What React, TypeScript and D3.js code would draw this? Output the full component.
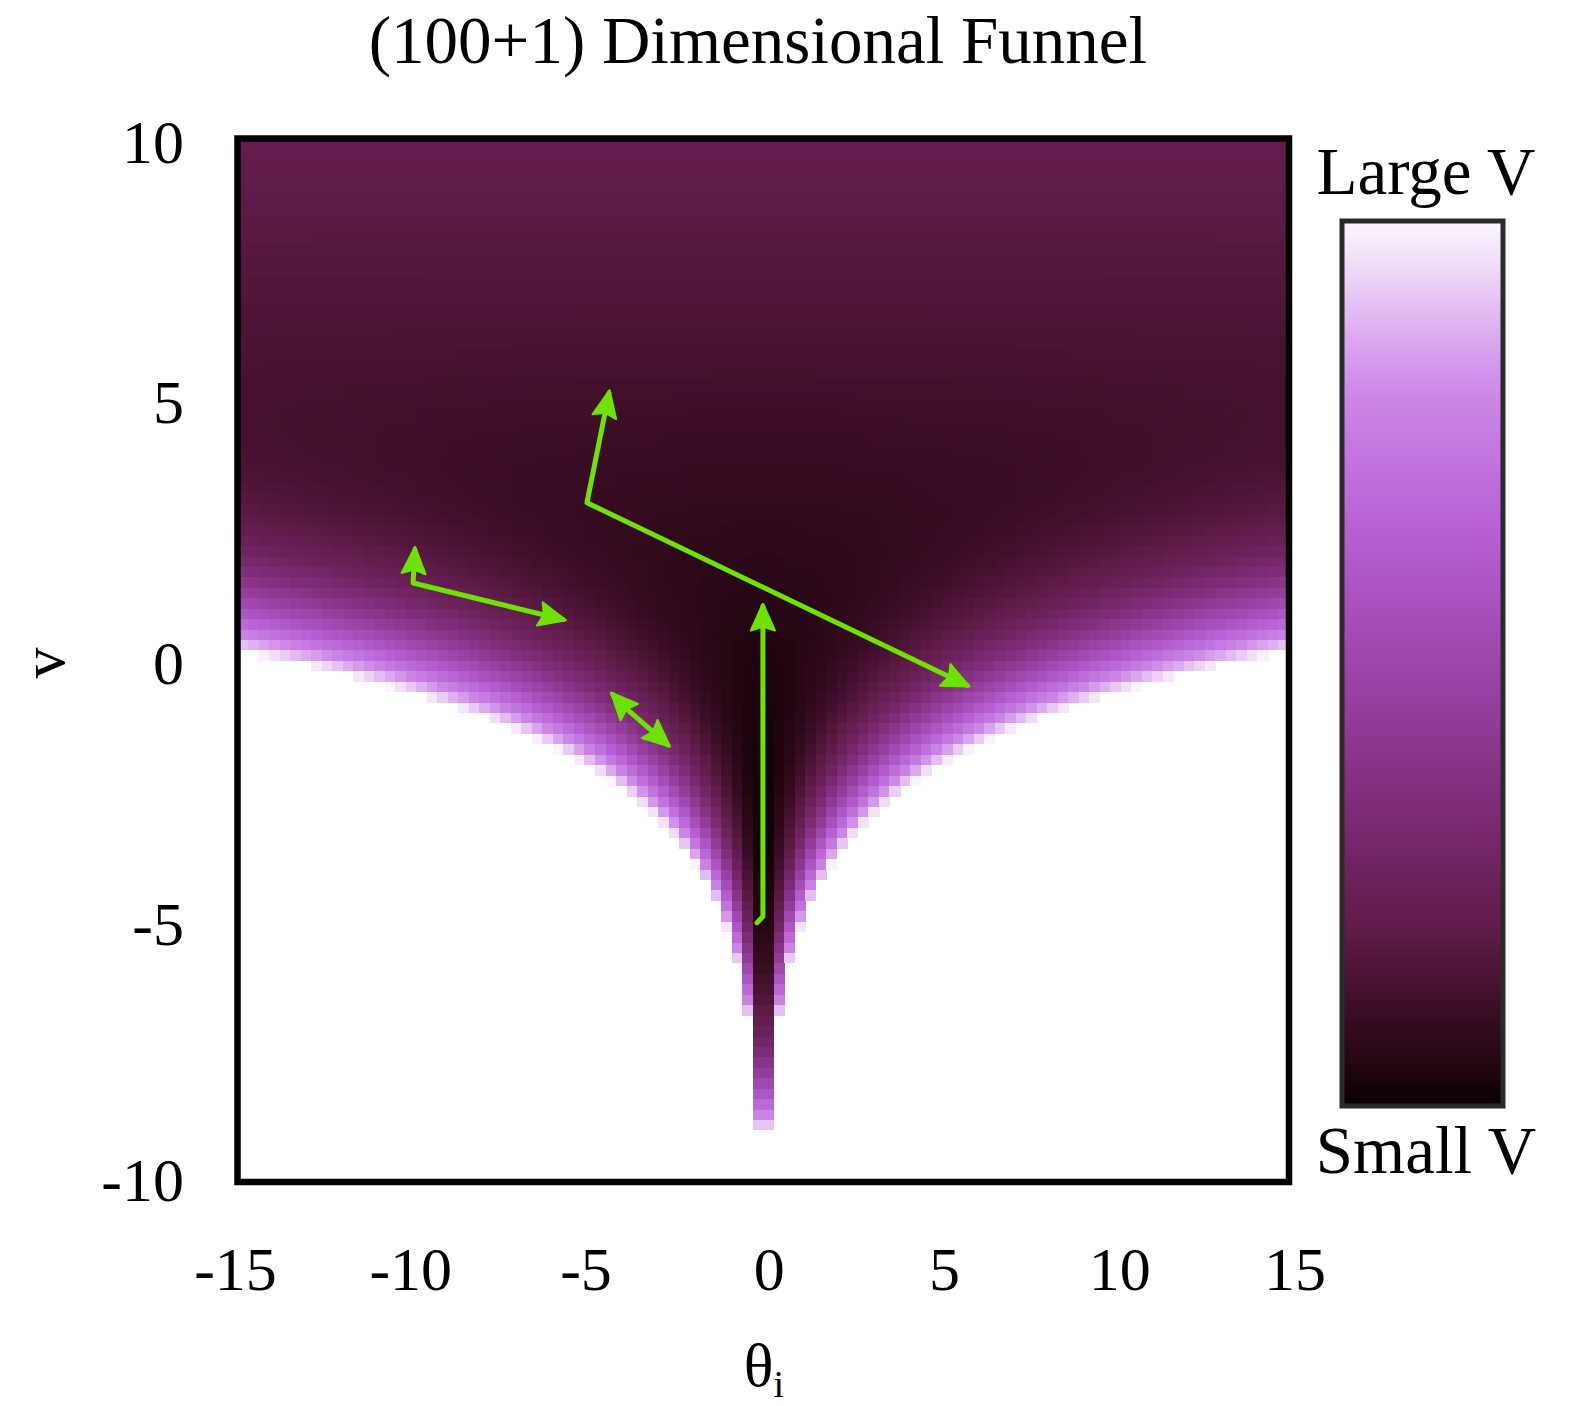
import React, { useMemo } from "react";
import * as d3 from "d3";

// ---- chart text ----
const titleText = "(100+1) Dimensional Funnel";
const colorbarTop = "Large V";
const colorbarBottom = "Small V";

// ---- axes ----
const thetaExtent = [-15, 15];
const vExtent = [-10, 10];
const thetaTicks = [-15, -10, -5, 0, 5, 10, 15];
const vTicks = [-10, -5, 0, 5, 10];

// ---- evaluation grid of the potential ----
const gridCols = 100;
const gridRows = 100;

// Funnel potential V(θ, v) = θ² / (2 e^v) + v² / (2 σ²) + v / 2, shifted so min V = 0
const vSigma = 3;
const vLinear = 0.5;
// V values spanned by the colour bar (Small V .. Large V); above is left blank
const colorDomain = [0, 95];
// gamma applied to the normalised potential before colouring
const colorGamma = 0.72;

// colour bar palette, from Small V (0) to Large V (1)
const paletteStops = [0, 0.05, 0.1, 0.19, 0.34, 0.49, 0.65, 0.8, 0.87, 0.95, 1];
const paletteColors = [
  "#0a0003",
  "#240612",
  "#380c22",
  "#5c1a45",
  "#7e2c78",
  "#9c44a8",
  "#b660d4",
  "#cc86e6",
  "#dcaaf0",
  "#f0dcf8",
  "#fcf6fd",
];

// ---- sampler trajectories, as [θ, v] vertices ----
const trajectoryA = [
  [-9.94, 2.12],
  [-9.99, 1.48],
  [-5.71, 0.78],
];
const trajectoryB = [
  [-4.29, -0.66],
  [-3.94, -0.91],
  [-2.72, -1.62],
];
const trajectoryC = [
  [-0.18, -5.03],
  [-0.01, -4.91],
  [-0.01, 1.03],
];
const trajectoryD = [
  [-4.4, 5.12],
  [-5.03, 3.02],
  [5.81, -0.48],
];
const trajectories = [trajectoryA, trajectoryB, trajectoryC, trajectoryD];
// whether each trajectory carries a head at its first vertex
const headAtStart = [true, true, false, true];

const W = 1576;
const H = 1406;
const plotLeft = 237.5;
const plotRight = 1289;
const plotTop = 138.5;
const plotBottom = 1182;

const barLeft = 1342;
const barRight = 1503;
const barTop = 221;
const barBottom = 1106;

const green = "#6fe300";
const serif = "'Liberation Serif', 'Times New Roman', Times, serif";

const vMinOffset = (vLinear * vLinear * vSigma * vSigma) / 2;

function potential(theta: number, v: number) {
  return (
    (theta * theta) / (2 * Math.exp(v)) +
    (v * v) / (2 * vSigma * vSigma) +
    vLinear * v +
    vMinOffset
  );
}

export default function App() {
  const x = d3.scaleLinear().domain(thetaExtent).range([plotLeft, plotRight]);
  const y = d3.scaleLinear().domain(vExtent).range([plotBottom, plotTop]);
  const level = d3.scalePow().exponent(colorGamma).domain(colorDomain).range([0, 1]);
  const color = d3
    .scaleLinear<string>()
    .domain(paletteStops)
    .range(paletteColors)
    .interpolate(d3.interpolateRgb)
    .clamp(true);

  const cells = useMemo(() => {
    const out: { x0: number; y0: number; w: number; h: number; fill: string }[] = [];
    const dT = (thetaExtent[1] - thetaExtent[0]) / gridCols;
    const dV = (vExtent[1] - vExtent[0]) / gridRows;
    for (let i = 0; i < gridCols; i++) {
      const t0 = thetaExtent[0] + i * dT;
      const tc = t0 + dT / 2;
      for (let j = 0; j < gridRows; j++) {
        const v0 = vExtent[0] + j * dV;
        const vc = v0 + dV / 2;
        const val = potential(tc, vc);
        if (val > colorDomain[1]) continue;
        const lv = level(Math.max(0, val));
        const px0 = x(t0);
        const py0 = y(v0 + dV);
        out.push({
          x0: px0,
          y0: py0,
          w: x(t0 + dT) - px0 + 0.6,
          h: y(v0) - py0 + 0.6,
          fill: color(lv),
        });
      }
    }
    return out;
  }, []);

  const line = d3
    .line<number[]>()
    .x((d) => x(d[0]))
    .y((d) => y(d[1]));

  const barScale = d3.scaleLinear().domain([0, 1]).range([barBottom, barTop]);

  return (
    <svg
      width={W}
      height={H}
      viewBox={`0 0 ${W} ${H}`}
      style={{ position: "absolute", left: 0, top: 0, background: "#fff" }}
    >
      <defs>
        <linearGradient id="vbar" x1="0" y1={barBottom} x2="0" y2={barTop} gradientUnits="userSpaceOnUse">
          {paletteStops.map((s, k) => (
            <stop key={k} offset={s} stopColor={paletteColors[k]} />
          ))}
        </linearGradient>
        <marker
          id="head"
          viewBox="-30 -16 34 32"
          refX={0}
          refY={0}
          markerWidth={34}
          markerHeight={32}
          markerUnits="userSpaceOnUse"
          orient="auto-start-reverse"
        >
          <path d="M3,0 L-24,-12 L-20,0 L-24,12 Z" fill={green} stroke={green} strokeWidth={2} strokeLinejoin="round" />
        </marker>
        <clipPath id="plotClip">
          <rect x={plotLeft} y={plotTop} width={plotRight - plotLeft} height={plotBottom - plotTop} />
        </clipPath>
      </defs>

      <rect x={0} y={0} width={W} height={H} fill="#fff" />

      {/* potential heat map */}
      <g clipPath="url(#plotClip)" shapeRendering="crispEdges">
        {cells.map((c, k) => (
          <rect key={k} x={c.x0} y={c.y0} width={c.w} height={c.h} fill={c.fill} />
        ))}
      </g>

      {/* trajectories */}
      <g fill="none" stroke={green} strokeWidth={5} strokeLinejoin="round" strokeLinecap="round">
        {trajectories.map((tr, k) => (
          <path
            key={k}
            d={line(tr) || ""}
            markerEnd="url(#head)"
            markerStart={headAtStart[k] ? "url(#head)" : undefined}
          />
        ))}
      </g>

      {/* plot frame */}
      <rect
        x={plotLeft}
        y={plotTop}
        width={plotRight - plotLeft}
        height={plotBottom - plotTop}
        fill="none"
        stroke="#000"
        strokeWidth={6.5}
      />

      {/* title */}
      <text x={758} y={63} textAnchor="middle" fontFamily={serif} fontSize={67} fill="#000">
        {titleText}
      </text>

      {/* y ticks */}
      {vTicks.map((t) => (
        <text
          key={t}
          x={184}
          y={y(t) + (t === -10 ? 19 : 24)}
          textAnchor="end"
          fontFamily={serif}
          fontSize={62}
          fill="#000"
        >
          {t}
        </text>
      ))}

      {/* x ticks */}
      {thetaTicks.map((t) => (
        <text
          key={t}
          x={x(t) + (t < 0 ? -2 : 6)}
          y={1290}
          textAnchor="middle"
          fontFamily={serif}
          fontSize={62}
          fill="#000"
        >
          {t}
        </text>
      ))}

      {/* axis titles */}
      <text
        transform={`translate(64, 663) rotate(-90)`}
        textAnchor="middle"
        fontFamily={serif}
        fontSize={62}
        fill="#000"
      >
        v
      </text>
      <text x={764} y={1386} textAnchor="middle" fontFamily={serif} fontSize={62} fill="#000">
        θ<tspan fontSize={38} dy={11}>i</tspan>
      </text>

      {/* colour bar */}
      <rect
        x={barLeft}
        y={barScale(1)}
        width={barRight - barLeft}
        height={barScale(0) - barScale(1)}
        fill="url(#vbar)"
        stroke="#2a2a2a"
        strokeWidth={5}
      />
      <text x={1426} y={194} textAnchor="middle" fontFamily={serif} fontSize={67} fill="#000">
        {colorbarTop}
      </text>
      <text x={1426} y={1173} textAnchor="middle" fontFamily={serif} fontSize={67} fill="#000">
        {colorbarBottom}
      </text>
    </svg>
  );
}
